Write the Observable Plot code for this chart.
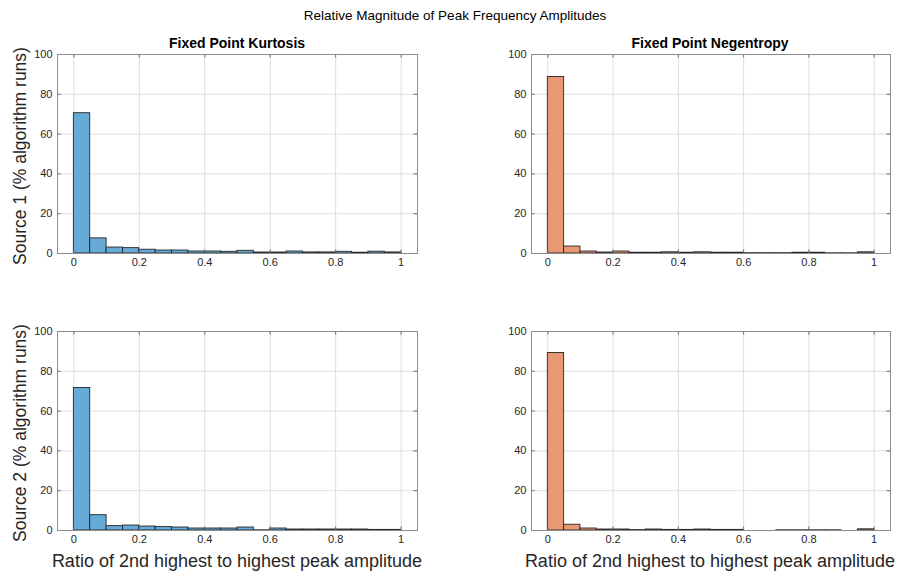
<!DOCTYPE html>
<html>
<head>
<meta charset="utf-8">
<script src="https://cdn.jsdelivr.net/npm/d3@7"></script>
<script src="https://cdn.jsdelivr.net/npm/@observablehq/plot@0.6"></script>
<style>
  body { margin: 0; background: #fff; }
  #fig { position: relative; width: 901px; height: 571px; overflow: hidden;
         font-family: "Liberation Sans", Arial, Helvetica, sans-serif; color: #000; }
  .t { position: absolute; white-space: nowrap; transform: translate(-50%, -50%); }
  .rot { transform: translate(-50%, -50%) rotate(-90deg); }
  .panel { position: absolute; }
</style>
</head>
<body>
<div id="fig"></div>
<script>
// Histogram bin edges (20 bins of width 0.05 over [0, 1])
const binEdges = [0, 0.05, 0.1, 0.15, 0.2, 0.25, 0.3, 0.35, 0.4, 0.45, 0.5,
                  0.55, 0.6, 0.65, 0.7, 0.75, 0.8, 0.85, 0.9, 0.95, 1];

// Percentage of algorithm runs per bin
const kurtosisSource1 = [70.5, 7.6, 3.0, 2.7, 1.9, 1.5, 1.5, 1.0, 1.0, 0.85,
                         1.35, 0.5, 0.5, 1.0, 0.55, 0.55, 0.85, 0.4, 0.9, 0.55];
const negentropySource1 = [88.7, 3.5, 1.0, 0.5, 1.0, 0.4, 0.4, 0.6, 0.4, 0.6,
                           0.4, 0.4, 0.15, 0.15, 0.15, 0.4, 0.4, 0.1, 0.1, 0.6];
const kurtosisSource2 = [71.6, 7.7, 2.2, 2.5, 2.0, 1.7, 1.5, 1.0, 1.0, 1.0,
                         1.5, 0.1, 1.0, 0.5, 0.5, 0.5, 0.5, 0.5, 0.3, 0.3];
const negentropySource2 = [89.2, 2.9, 1.0, 0.5, 0.5, 0.2, 0.5, 0.3, 0.3, 0.5,
                           0.3, 0.3, 0.0, 0.0, 0.1, 0.1, 0.1, 0.1, 0.0, 0.6];

// Axis ticks
const xTicks = [0, 0.2, 0.4, 0.6, 0.8, 1];
const xTickLabels = ["0", "0.2", "0.4", "0.6", "0.8", "1"];
const yTicks = [0, 20, 40, 60, 80, 100];
const yTickLabels = ["0", "20", "40", "60", "80", "100"];

// Titles and labels
const figureTitle = "Relative Magnitude of Peak Frequency Amplitudes";
const methodTitles = ["Fixed Point Kurtosis", "Fixed Point Negentropy"];
const sourceLabels = ["Source 1 (% algorithm runs)", "Source 2 (% algorithm runs)"];
const xLabel = "Ratio of 2nd highest to highest peak amplitude";

const blueFill = "#66aad7";
const orangeFill = "#e89875";

const xDomain = [-0.05, 1.05];
const yDomain = [0, 100];

function histogramPanel(values, fill, width, marginLeft, marginRight) {
  const bins = values.map((v, i) => ({x1: binEdges[i], x2: binEdges[i + 1], y: v}));
  const tickLenX = 0.011; // ~3.6px inward
  const tickLenY = 1.8;
  return Plot.plot({
    width,
    height: 232,
    marginTop: 10,
    marginBottom: 23,
    marginLeft,
    marginRight,
    x: {domain: xDomain},
    y: {domain: yDomain},
    style: {fontSize: "11px", fontFamily: "'Liberation Sans', Arial, Helvetica, sans-serif",
            color: "#262626", background: "white", overflow: "visible"},
    marks: [
      Plot.gridX(xTicks, {stroke: "#dedede", strokeOpacity: 1}),
      Plot.gridY(yTicks, {stroke: "#dedede", strokeOpacity: 1}),
      Plot.rectY(bins, {x1: "x1", x2: "x2", y: "y", fill, stroke: "#262626",
                        strokeWidth: 0.9, insetLeft: 0, insetRight: 0}),
      // inward tick marks on all four sides
      Plot.ruleX(xTicks, {x: d => d, y1: yDomain[0], y2: yDomain[0] + tickLenY, stroke: "#6e6e6e"}),
      Plot.ruleX(xTicks, {x: d => d, y1: yDomain[1], y2: yDomain[1] - tickLenY, stroke: "#6e6e6e"}),
      Plot.ruleY(yTicks, {y: d => d, x1: xDomain[0], x2: xDomain[0] + tickLenX, stroke: "#6e6e6e"}),
      Plot.ruleY(yTicks, {y: d => d, x1: xDomain[1], x2: xDomain[1] - tickLenX, stroke: "#6e6e6e"}),
      Plot.frame({stroke: "#8c8c8c", strokeWidth: 1}),
      Plot.axisX(xTicks, {tickSize: 0, tickPadding: 5, label: null,
                          tickFormat: d => xTickLabels[xTicks.indexOf(d)]}),
      Plot.axisY(yTicks, {tickSize: 0, tickPadding: 5, label: null,
                          tickFormat: d => yTickLabels[yTicks.indexOf(d)]})
    ]
  });
}

const fig = document.getElementById("fig");

function addText(text, x, y, style, cls = "t") {
  const el = document.createElement("div");
  el.className = cls;
  el.textContent = text;
  el.style.left = x + "px";
  el.style.top = y + "px";
  Object.assign(el.style, style);
  fig.appendChild(el);
}

function addPanel(svg, left, top) {
  svg.classList.add("panel");
  svg.style.left = left + "px";
  svg.style.top = top + "px";
  fig.appendChild(svg);
}

// Left column: frame 57 → 417; right column: frame 531 → 890
addPanel(histogramPanel(kurtosisSource1, blueFill, 440, 57, 23), 0, 44);
addPanel(histogramPanel(negentropySource1, orangeFill, 430, 61, 10), 470, 44);
addPanel(histogramPanel(kurtosisSource2, blueFill, 440, 57, 23), 0, 321);
addPanel(histogramPanel(negentropySource2, orangeFill, 430, 61, 10), 470, 321);

addText(figureTitle, 455, 15, {fontSize: "13.5px"});
addText(methodTitles[0], 237, 43, {fontSize: "14px", fontWeight: "bold"});
addText(methodTitles[1], 710, 43, {fontSize: "14px", fontWeight: "bold"});
addText(sourceLabels[0], 20, 156, {fontSize: "17.5px", color: "#262626"}, "t rot");
addText(sourceLabels[1], 20, 433, {fontSize: "17.5px", color: "#262626"}, "t rot");
addText(xLabel, 237, 561, {fontSize: "18px", color: "#262626"});
addText(xLabel, 710, 561, {fontSize: "18px", color: "#262626"});
</script>
</body>
</html>
